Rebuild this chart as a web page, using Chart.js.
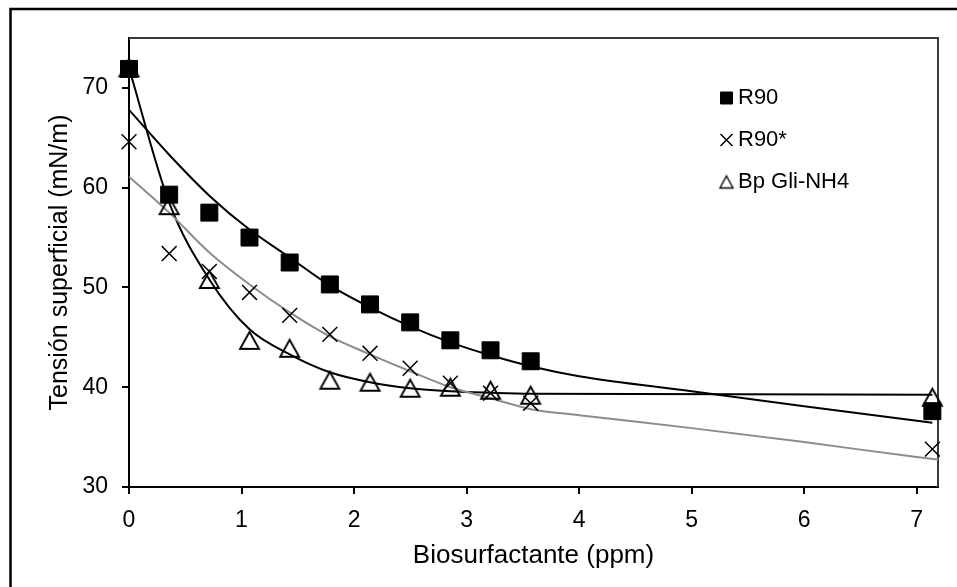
<!DOCTYPE html>
<html><head><meta charset="utf-8">
<script src="https://cdn.jsdelivr.net/npm/chart.js@4.4.1/dist/chart.umd.min.js"></script>
<style>html,body{margin:0;padding:0;background:#fff;overflow:hidden}#wrap{width:957px;height:587px}</style>
</head><body><div id="wrap"><canvas id="c" width="957" height="587"></canvas></div>
<script>
// ---- data ----
const conc   = [0, 0.357, 0.714, 1.071, 1.428, 1.785, 2.142, 2.499, 2.856, 3.213, 3.57, 7.14];
const r90    = [71.9, 59.3, 57.5, 55.0, 52.5, 50.3, 48.3, 46.5, 44.7, 43.7, 42.6, 37.6];
const r90s   = [64.6, 53.4, 51.6, 49.5, 47.2, 45.3, 43.4, 41.9, 40.4, 39.4, 38.4, 33.8];
const bpGli  = [72.0, 58.2, 50.8, 44.7, 43.9, 40.7, 40.5, 39.9, 40.0, 39.7, 39.2, 39.0];
// fitted curves
const fitR90X  = [0, 0.357, 0.714, 1.071, 1.428, 1.785, 2.142, 2.499, 2.856, 3.213, 3.57, 4.0, 5.0, 6.0, 7.14];
const fitR90   = [67.8, 63.3, 59.2, 55.8, 53.0, 50.2, 48.0, 46.1, 44.5, 43.2, 42.1, 41.1, 39.6, 38.1, 36.45];
const fitR90sX = [0, 0.357, 0.714, 1.071, 1.428, 1.785, 2.142, 2.499, 2.856, 3.213, 3.57, 4.0, 5.0, 6.0, 7.0, 7.19];
const fitR90s  = [61.1, 57.5, 53.5, 50.3, 47.5, 45.1, 43.3, 41.6, 40.0, 38.9, 37.8, 37.2, 35.9, 34.5, 33.0, 32.75];
const fitBpX   = [0, 0.357, 0.714, 1.071, 1.428, 1.785, 2.142, 2.499, 2.856, 3.213, 3.57, 7.14];
const fitBp    = [72.0, 58.5, 50.8, 45.8, 43.3, 41.5, 40.5, 39.9, 39.6, 39.45, 39.35, 39.25];
const seriesNames = ['R90', 'R90*', 'Bp Gli-NH4'];
const xTicks = [0, 1, 2, 3, 4, 5, 6, 7];
const yTicks = [30, 40, 50, 60, 70];
const xTitle = 'Biosurfactante (ppm)';
const yTitle = 'Tensión superficial (mN/m)';

const FONT = "'Liberation Sans', Arial, sans-serif";
const pts = (xs, ys) => xs.map((x, i) => ({x: x, y: ys[i]}));

function triCanvas(w, h, lw) {
  const c = document.createElement('canvas');
  c.width = Math.ceil(w + lw * 2 + 2); c.height = Math.ceil(h + lw * 2 + 2);
  const g = c.getContext('2d');
  g.strokeStyle = '#000'; g.lineWidth = lw; g.lineJoin = 'miter';
  const cx = c.width / 2, cy = c.height / 2;
  g.beginPath(); g.moveTo(cx, cy - h / 2); g.lineTo(cx + w / 2, cy + h / 2); g.lineTo(cx - w / 2, cy + h / 2); g.closePath(); g.stroke();
  return c;
}
const triBig = triCanvas(19, 17, 1.9);
const triSmall = triCanvas(13, 12, 1.4);

const framePlugin = {
  id: 'frame',
  beforeDatasetsDraw(chart) {
    const ctx = chart.ctx, a = chart.chartArea;
    ctx.save();
    ctx.strokeStyle = '#3a3a3a'; ctx.lineWidth = 2;
    ctx.beginPath();
    ctx.moveTo(a.left, a.top); ctx.lineTo(a.right, a.top); ctx.lineTo(a.right, a.bottom);
    ctx.stroke();
    ctx.restore();
  },
  afterDraw(chart) {
    const ctx = chart.ctx;
    ctx.save();
    ctx.strokeStyle = '#000'; ctx.lineWidth = 2.5;
    ctx.beginPath();
    ctx.moveTo(10.5, chart.height + 5); ctx.lineTo(10.5, 9); ctx.lineTo(chart.width + 5, 9);
    ctx.stroke();
    ctx.restore();
  }
};
const legendPos = {
  id: 'legendPos',
  afterLayout(chart) {
    const l = chart.legend; if (!l) return;
    l.left = 706; l.top = 67; l.right = 938; l.bottom = 487;
  }
};

new Chart(document.getElementById('c'), {
  type: 'scatter',
  data: {
    datasets: [
      {label: seriesNames[0], data: pts(conc, r90), pointStyle: 'rect', pointRadius: 12, pointBackgroundColor: '#000', pointBorderColor: '#000', pointBorderWidth: 1, showLine: false, clip: false, backgroundColor: '#000', borderColor: '#000', borderWidth: 1},
      {label: seriesNames[1], data: pts(conc, r90s), pointStyle: 'crossRot', pointRadius: 10.5, pointBorderColor: '#000', pointBorderWidth: 1.5, showLine: false, clip: false, backgroundColor: '#000', borderColor: '#000', borderWidth: 1.5},
      {label: seriesNames[2], data: pts(conc, bpGli), pointStyle: triBig, pointRadius: 10, showLine: false, clip: false, backgroundColor: 'rgba(0,0,0,0)', borderColor: '#000', borderWidth: 1.2},
      {label: 'fitR90', data: pts(fitR90X, fitR90), showLine: true, pointRadius: 0, borderColor: '#000', borderWidth: 2, cubicInterpolationMode: 'monotone'},
      {label: 'fitR90s', data: pts(fitR90sX, fitR90s), showLine: true, pointRadius: 0, borderColor: '#8c8c8c', borderWidth: 2, cubicInterpolationMode: 'monotone'},
      {label: 'fitBp', data: pts(fitBpX, fitBp), showLine: true, pointRadius: 0, borderColor: '#000', borderWidth: 2, cubicInterpolationMode: 'monotone'}
    ]
  },
  options: {
    responsive: false, animation: false, devicePixelRatio: 1,
    layout: {padding: {left: 0, top: 38, right: 19, bottom: 0}},
    plugins: {
      tooltip: {enabled: false},
      legend: {
        position: 'chartArea', align: 'start',
        labels: {
          usePointStyle: true, boxHeight: 12, boxWidth: 1, padding: 20, color: '#000',
          font: {family: FONT, size: 22},
          filter: (item) => item.datasetIndex < 3,
          generateLabels(chart) {
            const items = Chart.defaults.plugins.legend.labels.generateLabels(chart);
            items.forEach(it => { if (it.datasetIndex === 2) it.pointStyle = triSmall; });
            return items;
          }
        }
      }
    },
    scales: {
      x: {
        type: 'linear', min: 0, max: 7.19,
        afterBuildTicks: s => { s.ticks = xTicks.map(v => ({value: v})); },
        afterFit: s => { s.height = 100; },
        ticks: {includeBounds: false, color: '#000', font: {family: FONT, size: 23}, padding: 13},
        grid: {drawOnChartArea: false, drawTicks: true, tickLength: 7, color: '#000', lineWidth: 2},
        border: {display: true, color: '#000', width: 2},
        title: {display: true, text: xTitle, color: '#000', font: {family: FONT, size: 26}, padding: {top: 0, bottom: 16}}
      },
      y: {
        type: 'linear', min: 30, max: 75,
        afterBuildTicks: s => { s.ticks = yTicks.map(v => ({value: v})); },
        afterFit: s => { s.width = 129; },
        ticks: {includeBounds: false, color: '#000', font: {family: FONT, size: 23}, padding: 14},
        grid: {drawOnChartArea: false, drawTicks: true, tickLength: 7, color: '#000', lineWidth: 2},
        border: {display: true, color: '#000', width: 2},
        title: {display: true, text: yTitle, color: '#000', font: {family: FONT, size: 25}, padding: {top: 45, bottom: 0}}
      }
    }
  },
  plugins: [framePlugin, legendPos]
});
</script></body></html>
